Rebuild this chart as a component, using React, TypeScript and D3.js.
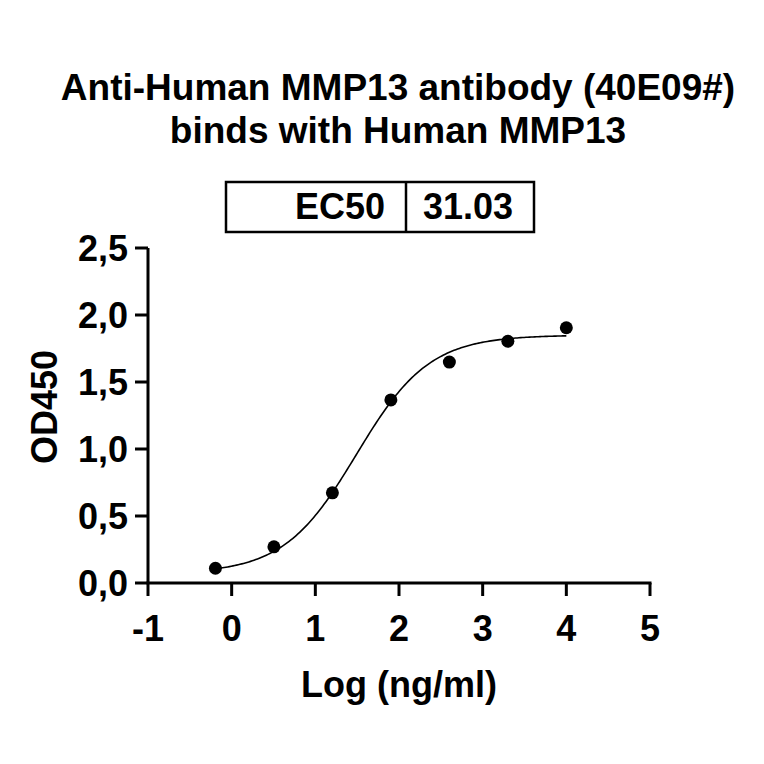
import * as d3 from "d3";

// concentrations as log10(ng/ml), 5-fold dilution series
const logConc = [-0.194, 0.505, 1.204, 1.903, 2.602, 3.301, 4.0];
const od450 = [0.11, 0.27, 0.673, 1.366, 1.649, 1.804, 1.905];

// 4PL fit parameters
const fitBottom = 0.07;
const fitTop = 1.85;
const fitHill = 1.0;
const ec50 = 31.03;

const xTicks = [-1, 0, 1, 2, 3, 4, 5];
const yTicks = [0, 0.5, 1.0, 1.5, 2.0, 2.5];

const titleLines = ["Anti-Human MMP13 antibody (40E09#)", "binds with Human MMP13"];

const W = 764;
const H = 764;
const margin = { top: 248, right: 114, bottom: 181, left: 148 };
const font = "'Liberation Sans', Arial, Helvetica, sans-serif";
const fs = 36;

const commaFmt = d3.formatLocale({
  decimal: ",",
  thousands: ".",
  grouping: [3],
  currency: ["", ""],
});

export default function App() {
  const x = d3
    .scaleLinear()
    .domain([-1, 5])
    .range([margin.left, W - margin.right]);
  const y = d3
    .scaleLinear()
    .domain([0, 2.5])
    .range([H - margin.bottom, margin.top]);

  const logEC50 = Math.log10(ec50);
  const fourPL = (v: number) =>
    fitBottom + (fitTop - fitBottom) / (1 + Math.pow(10, (logEC50 - v) * fitHill));

  const xMin = d3.min(logConc) ?? 0;
  const xMax = d3.max(logConc) ?? 4;
  const curveXs = d3.range(xMin, xMax + 0.001, (xMax - xMin) / 200);
  const line = d3
    .line<number>()
    .x((d) => x(d))
    .y((d) => y(fourPL(d)));

  const yFmt = commaFmt.format(".1f");
  const y0 = y(0);

  return (
    <svg
      width={W}
      height={H}
      style={{ position: "absolute", left: 0, top: 0, background: "#fff" }}
      fontFamily={font}
      fontWeight="bold"
    >
      {/* title */}
      {titleLines.map((t, i) => (
        <text key={t} x={398} y={100 + i * 43} textAnchor="middle" fontSize={37}>
          {t}
        </text>
      ))}

      {/* EC50 table */}
      <g>
        <rect x={226} y={182} width={308} height={50} fill="none" stroke="#000" strokeWidth={2.5} />
        <line x1={406} x2={406} y1={182} y2={232} stroke="#000" strokeWidth={2.5} />
        <text x={385} y={219} textAnchor="end" fontSize={fs}>
          EC50
        </text>
        <text x={423} y={219} fontSize={fs}>
          {ec50.toFixed(2)}
        </text>
      </g>

      {/* y axis */}
      <line x1={x(-1)} x2={x(-1)} y1={y(2.5)} y2={y0} stroke="#000" strokeWidth={3} />
      {yTicks.map((t) => (
        <g key={t}>
          <line x1={x(-1) - 13} x2={x(-1)} y1={y(t)} y2={y(t)} stroke="#000" strokeWidth={3} />
          <text x={x(-1) - 20} y={y(t) + 13} textAnchor="end" fontSize={fs}>
            {yFmt(t)}
          </text>
        </g>
      ))}

      {/* x axis */}
      <line x1={x(-1) - 1.5} x2={x(5) + 1.5} y1={y0} y2={y0} stroke="#000" strokeWidth={3} />
      {xTicks.map((t) => (
        <g key={t}>
          <line x1={x(t)} x2={x(t)} y1={y0} y2={y0 + 13} stroke="#000" strokeWidth={3} />
          <text x={x(t)} y={y0 + 58} textAnchor="middle" fontSize={fs}>
            {t}
          </text>
        </g>
      ))}

      {/* axis titles */}
      <text x={x(2)} y={y0 + 114} textAnchor="middle" fontSize={fs}>
        Log (ng/ml)
      </text>
      <text
        transform={`translate(57,407) rotate(-90)`}
        textAnchor="middle"
        fontSize={fs}
      >
        OD450
      </text>

      {/* fitted curve */}
      <path d={line(curveXs) ?? ""} fill="none" stroke="#000" strokeWidth={1.6} />

      {/* data points */}
      {logConc.map((c, i) => (
        <circle key={c} cx={x(c)} cy={y(od450[i])} r={6.5} fill="#000" />
      ))}
    </svg>
  );
}
